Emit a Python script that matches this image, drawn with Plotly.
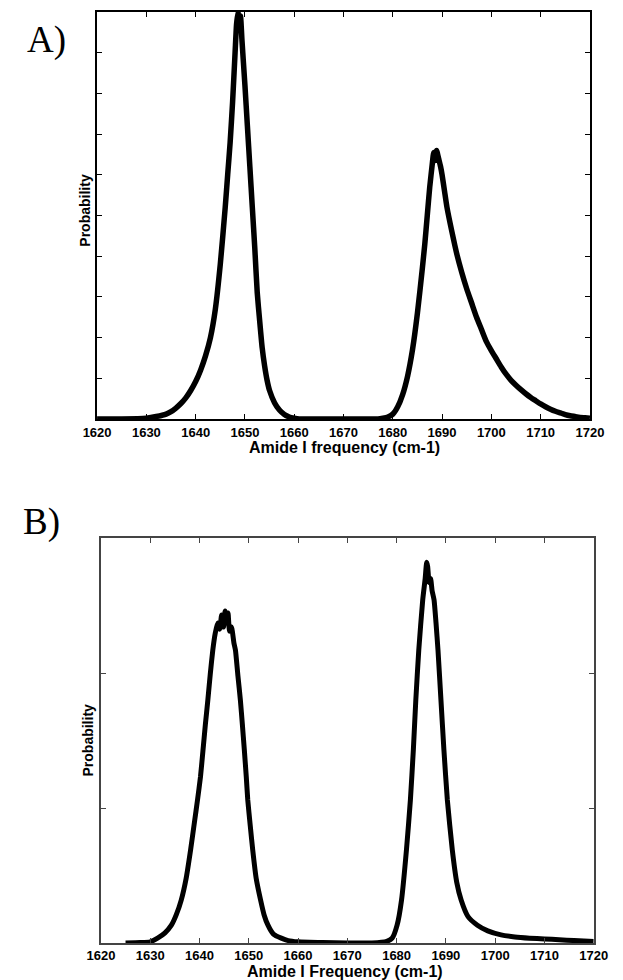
import plotly.graph_objects as go

# ---- Panel A data (frequency in cm-1, probability in arbitrary units) ----
freq_a = [1620, 1625, 1630, 1632, 1634, 1635, 1636, 1637, 1638, 1639, 1640, 1641, 1642, 1643, 1644,
          1645, 1646, 1646.5, 1647, 1647.5, 1648, 1648.3, 1648.6, 1648.8, 1649.1, 1649.4, 1650,
          1650.5, 1651, 1651.5, 1652, 1652.5, 1653, 1653.5, 1654, 1654.5, 1655, 1656, 1657, 1658,
          1659, 1660, 1661, 1665, 1670, 1675, 1677, 1678, 1679, 1680, 1681, 1682, 1683, 1684, 1685,
          1686, 1686.5, 1687, 1687.5, 1688, 1688.3, 1688.6, 1688.9, 1689.3, 1689.7, 1690, 1690.5,
          1691, 1692, 1693, 1694, 1695, 1696, 1697, 1698, 1699, 1700, 1701, 1702, 1703, 1704, 1705,
          1706, 1707, 1708, 1709, 1710, 1711, 1712, 1713, 1714, 1715, 1716, 1717, 1718, 1719, 1720]
prob_a = [0, 0, 0.002, 0.006, 0.012, 0.018, 0.027, 0.038, 0.052, 0.07, 0.092, 0.12, 0.155, 0.2, 0.27,
          0.38, 0.52, 0.6, 0.68, 0.78, 0.9, 0.97, 1.0, 0.96, 0.99, 0.93, 0.82,
          0.72, 0.62, 0.52, 0.42, 0.31, 0.24, 0.175, 0.13, 0.095, 0.07, 0.04, 0.022, 0.011,
          0.005, 0.002, 0, 0, 0, 0, 0, 0.002, 0.005, 0.012, 0.03, 0.06, 0.105, 0.17, 0.26,
          0.37, 0.43, 0.5, 0.57, 0.625, 0.655, 0.635, 0.66, 0.64, 0.62, 0.6, 0.56,
          0.52, 0.46, 0.405, 0.36, 0.32, 0.285, 0.25, 0.22, 0.19, 0.168, 0.148, 0.128, 0.11, 0.095, 0.083,
          0.072, 0.062, 0.053, 0.045, 0.037, 0.03, 0.024, 0.019, 0.015, 0.011, 0.008, 0.006, 0.004, 0.003, 0.002]

# ---- Panel B data ----
freq_b = [1625, 1628, 1630, 1631.5, 1633, 1634.3, 1635.3, 1636.3, 1637.3, 1638.2, 1639, 1639.6, 1640.2,
          1640.7, 1641.2, 1641.7, 1642.2, 1642.7, 1643.2, 1643.7, 1644.1, 1644.5, 1644.9, 1645.2,
          1645.5, 1645.8, 1646.1, 1646.5, 1647, 1647.3, 1647.8, 1648.3, 1648.7, 1649.1, 1649.5, 1649.8,
          1650.3, 1650.8, 1651.5, 1652.4, 1653.1, 1653.9, 1655, 1656.6, 1658, 1660, 1665, 1670, 1675,
          1678, 1679.1, 1680.1, 1681, 1682, 1682.8, 1683.4, 1683.9, 1684.5, 1685.3, 1685.8, 1686.1,
          1686.3, 1686.6, 1686.9, 1687.2, 1687.6, 1688, 1688.4, 1689, 1689.6, 1690.3, 1691.3, 1692.2,
          1693.1, 1694.5, 1696.4, 1698.5, 1701.2, 1704, 1707, 1710, 1713, 1716, 1720]
prob_b = [0, 0.001, 0.003, 0.012, 0.025, 0.044, 0.07, 0.106, 0.16, 0.23, 0.3, 0.353, 0.41,
          0.474, 0.54, 0.6, 0.665, 0.723, 0.765, 0.79, 0.775, 0.81, 0.78, 0.82,
          0.79, 0.815, 0.77, 0.78, 0.74, 0.723, 0.66, 0.6, 0.54, 0.477, 0.41, 0.353,
          0.29, 0.23, 0.16, 0.106, 0.07, 0.044, 0.022, 0.012, 0.006, 0.003, 0.001, 0, 0,
          0.004, 0.012, 0.044, 0.106, 0.23, 0.353, 0.477, 0.6, 0.723, 0.847, 0.9, 0.94,
          0.93, 0.89, 0.9, 0.87, 0.847, 0.79, 0.723, 0.6, 0.477, 0.353, 0.23, 0.15,
          0.106, 0.065, 0.044, 0.03, 0.02, 0.015, 0.012, 0.01, 0.008, 0.006, 0.004]

x_ticks = [1620, 1630, 1640, 1650, 1660, 1670, 1680, 1690, 1700, 1710, 1720]
ya_ticks = [0.1, 0.2, 0.3, 0.4, 0.5, 0.6, 0.7, 0.8, 0.9]
yb_ticks = [1 / 3, 2 / 3]

W, H = 623, 980

def px_x(p):
    return p / W

def px_y(p):
    return 1 - p / H

fig = go.Figure()
fig.add_trace(go.Scatter(x=freq_a, y=prob_a, mode="lines",
                         line=dict(color="black", width=5.5, shape="spline", smoothing=0.5),
                         xaxis="x", yaxis="y", showlegend=False))
fig.add_trace(go.Scatter(x=freq_b, y=prob_b, mode="lines",
                         line=dict(color="black", width=5, shape="spline", smoothing=0.5),
                         xaxis="x2", yaxis="y2", showlegend=False))

tickfont = dict(family="Liberation Sans, Arial, sans-serif", size=13, color="black")

def xaxis_cfg(domain, anchor, linecolor, linewidth):
    return dict(domain=domain, anchor=anchor, range=[1620, 1720], tickmode="array", tickvals=x_ticks,
                ticktext=["<b>%d</b>" % v for v in x_ticks], ticks="inside", ticklen=5, tickcolor=linecolor,
                tickwidth=1.2, showline=True, linecolor=linecolor, linewidth=linewidth, mirror="ticks",
                showgrid=False, zeroline=False, tickfont=tickfont)

def yaxis_cfg(domain, anchor, ticks, linecolor, linewidth):
    return dict(domain=domain, anchor=anchor, range=[0, 1], tickmode="array", tickvals=ticks,
                showticklabels=False, ticks="inside", ticklen=5, tickcolor=linecolor, tickwidth=1.2,
                showline=True, linecolor=linecolor, linewidth=linewidth, mirror="ticks",
                showgrid=False, zeroline=False)

fig.update_layout(
    width=W, height=H, margin=dict(l=0, r=0, t=0, b=0),
    paper_bgcolor="white", plot_bgcolor="white",
    xaxis=xaxis_cfg([px_x(87), px_x(603)], "y", "black", 2),
    yaxis=yaxis_cfg([px_y(419), px_y(12)], "x", ya_ticks, "black", 2),
    xaxis2=xaxis_cfg([px_x(91), px_x(607)], "y2", "#444444", 1.5),
    yaxis2=yaxis_cfg([px_y(943), px_y(538)], "x2", yb_ticks, "#444444", 1.5),
)

bold = "Liberation Sans, Arial, sans-serif"
serif = "Liberation Serif, Times New Roman, serif"
annots = [
    dict(text="<b>Amide I frequency (cm-1)</b>", x=px_x(346), y=px_y(448), font=dict(family=bold, size=16)),
    dict(text="<b>Amide I Frequency (cm-1)</b>", x=px_x(347), y=px_y(971), font=dict(family=bold, size=16)),
    dict(text="<b>Probability</b>", x=px_x(74), y=px_y(210), textangle=-90, font=dict(family=bold, size=14)),
    dict(text="<b>Probability</b>", x=px_x(78), y=px_y(740), textangle=-90, font=dict(family=bold, size=14)),
    dict(text="A)", x=px_x(34), y=px_y(40), font=dict(family=serif, size=37)),
    dict(text="B)", x=px_x(29), y=px_y(522), font=dict(family=serif, size=37)),
]
for a in annots:
    a.update(xref="paper", yref="paper", showarrow=False, xanchor="center", yanchor="middle")
    a["font"]["color"] = "black"
fig.update_layout(annotations=annots)

fig.write_html("out.html")
